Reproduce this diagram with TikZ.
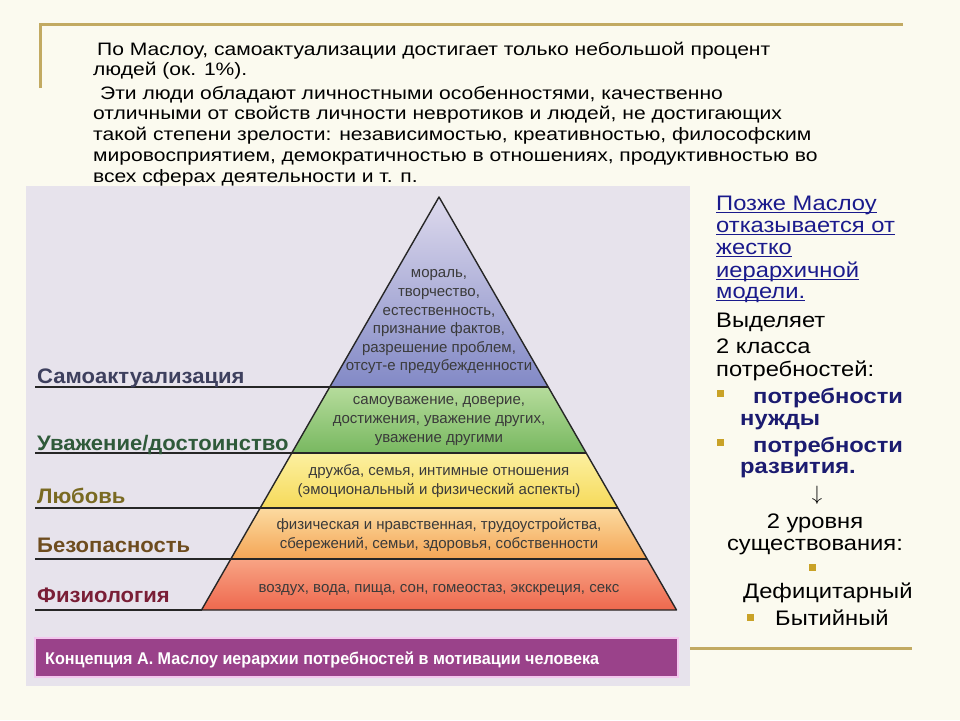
\documentclass[tikz,border=0pt]{standalone}
\usepackage{fontspec}
\setmainfont{Liberation Sans}
\newfontfamily\parafont[FakeStretch=1.17]{Liberation Sans}
\newfontfamily\sidefont[FakeStretch=1.13]{Liberation Sans}
\newfontfamily\levelfont[FakeStretch=1.05]{Liberation Sans}
\newfontfamily\bannerfont[FakeStretch=0.95]{Liberation Sans}
\usetikzlibrary{calc}

\definecolor{slide}{HTML}{FBFAEF}
\definecolor{goldline}{HTML}{C2AA62}
\definecolor{bulgold}{HTML}{C9A227}
\definecolor{lavbg}{HTML}{E7E3EC}
\definecolor{banner}{HTML}{9A428A}
\definecolor{bannerrim}{HTML}{F3C6EE}
\definecolor{linknavy}{HTML}{1A1A8C}
\definecolor{boldnavy}{HTML}{1B1B70}
\definecolor{layertext}{HTML}{3A3A3A}
\definecolor{selfcol}{HTML}{3E405E}
\definecolor{esteemcol}{HTML}{2F5A3A}
\definecolor{lovecol}{HTML}{7A6A22}
\definecolor{safecol}{HTML}{6E4C1E}
\definecolor{physcol}{HTML}{7A1E36}

% underline at a fixed depth
\newcommand{\undl}[1]{\setbox0\hbox{#1}\rlap{\rule[-3.2pt]{\wd0}{1.1pt}}\box0}

\begin{document}
\begin{tikzpicture}[x=1pt, y=-1pt,
    para/.style={anchor=base west, inner sep=0pt, font=\parafont\fontsize{18}{21}\selectfont},
    side/.style={anchor=base west, inner sep=0pt, font=\sidefont\fontsize{21}{23}\selectfont},
    sidec/.style={anchor=base, inner sep=0pt, font=\sidefont\fontsize{21}{23}\selectfont},
    sideb/.style={side, text=boldnavy, font=\sidefont\fontsize{21}{23}\selectfont\bfseries},
    level/.style={anchor=base west, inner sep=0pt, font=\levelfont\fontsize{21}{23}\selectfont\bfseries},
    need/.style={align=center, inner sep=0pt, text=layertext, font=\fontsize{15}{18.6}\selectfont},
    bul/.style={fill=bulgold, minimum size=7pt, inner sep=0pt},
    pyrline/.style={draw=black!85, line width=1.4pt, line join=round},
    gold/.style={draw=goldline, line width=3pt}
  ]
  % slide
  \fill[slide] (0,0) rectangle (960,720);
  \useasboundingbox (0,0) rectangle (960,720);
  \draw[gold] (40,88) -- (40,24) -- (903,24);
  \draw[gold] (690,648) -- (912,648);

  % top text
  \node[para] (p1) at (97,55) {По Маслоу, самоактуализации достигает только небольшой процент};
  \node[para] (p2) at (93,75) {людей (ок. 1\%).};
  \node[para] (p3) at (100,99) {Эти люди обладают личностными особенностями, качественно};
  \node[para] (p4) at (93,119) {отличными от свойств личности невротиков и людей, не достигающих};
  \node[para] (p5) at (93,140) {такой степени зрелости: независимостью, креативностью, философским};
  \node[para] (p6) at (93,161) {мировосприятием, демократичностью в отношениях, продуктивностью во};
  \node[para] (p7) at (93,182) {всех сферах деятельности и т. п.};

  % picture panel
  \fill[lavbg] (26,186) rectangle (690,686);
  \fill[banner, draw=bannerrim, line width=1.5pt] (35,638) rectangle (678,677);
  \node[anchor=base west, inner sep=0pt, text=white, font=\bannerfont\fontsize{17}{18}\selectfont\bfseries] (title) at (45,664)
    {Концепция А. Маслоу иерархии потребностей в мотивации человека};

  % pyramid
  \coordinate (apex) at (439,197);
  \coordinate (bl) at (201.5,610);
  \coordinate (br) at (676.5,610);
  \coordinate (l1) at ($(apex)!0.46!(bl)$);   \coordinate (r1) at ($(apex)!0.46!(br)$);
  \coordinate (l2) at ($(apex)!0.62!(bl)$);   \coordinate (r2) at ($(apex)!0.62!(br)$);
  \coordinate (l3) at ($(apex)!0.753!(bl)$);  \coordinate (r3) at ($(apex)!0.753!(br)$);
  \coordinate (l4) at ($(apex)!0.8765!(bl)$); \coordinate (r4) at ($(apex)!0.8765!(br)$);
  \shade[top color=blue!4!lavbg, bottom color={rgb,255:red,130;green,137;blue,198}] (apex) -- (r1) -- (l1) -- cycle;
  \shade[top color={rgb,255:red,182;green,220;blue,156}, bottom color={rgb,255:red,120;green,184;blue,96}] (l1) -- (r1) -- (r2) -- (l2) -- cycle;
  \shade[top color={rgb,255:red,252;green,240;blue,160}, bottom color={rgb,255:red,246;green,218;blue,90}] (l2) -- (r2) -- (r3) -- (l3) -- cycle;
  \shade[top color={rgb,255:red,252;green,218;blue,160}, bottom color={rgb,255:red,244;green,166;blue,86}] (l3) -- (r3) -- (r4) -- (l4) -- cycle;
  \shade[top color={rgb,255:red,248;green,164;blue,132}, bottom color={rgb,255:red,238;green,104;blue,78}] (l4) -- (r4) -- (br) -- (bl) -- cycle;
  \draw[pyrline] (apex) -- (br) -- (bl) -- cycle;
  \foreach \k in {1,...,4}
    \draw[pyrline] (l\k) -- (r\k);

  % level rules on the left
  \coordinate (lx) at (35,0);
  \foreach \k in {1,...,4}
    \draw[pyrline] (l\k) -- (l\k -| lx);
  \draw[pyrline] (bl) -- (bl -| lx);

  \node[level, text=selfcol] (self) at (37,383) {Самоактуализация};
  \node[level, text=esteemcol] (esteem) at (37,450) {Уважение/достоинство};
  \node[level, text=lovecol] (love) at (37,503) {Любовь};
  \node[level, text=safecol] (safe) at (37,552) {Безопасность};
  \node[level, text=physcol] (phys) at (37,602) {Физиология};

  % needs inside the layers
  \node[need] (n1) at (439,322) {мораль,\\творчество,\\естественность,\\признание фактов,\\разрешение проблем,\\отсут-е предубежденности};
  \node[need] (n2) at (439,421) {самоуважение, доверие,\\достижения, уважение других,\\уважение другими};
  \node[need] (n3) at (439,481) {дружба, семья, интимные отношения\\(эмоциональный и физический аспекты)};
  \node[need] (n4) at (439,535) {физическая и нравственная, трудоустройства,\\сбережений, семьи, здоровья, собственности};
  \node[need, anchor=base] (n5) at (439,592) {воздух, вода, пища, сон, гомеостаз, экскреция, секс};

  % right column
  \node[side, text=linknavy] (s1) at (716,210) {\undl{Позже Маслоу}};
  \node[side, text=linknavy] (s2) at (716,232) {\undl{отказывается от}};
  \node[side, text=linknavy] (s3) at (716,254) {\undl{жестко}};
  \node[side, text=linknavy] (s4) at (716,277) {\undl{иерархичной}};
  \node[side, text=linknavy] (s5) at (716,298) {\undl{модели.}};
  \node[side] (s6) at (716,327) {Выделяет};
  \node[side] (s7) at (716,353) {2 класса};
  \node[side] (s8) at (716,376) {потребностей:};
  \node[bul] (b1) at (720,393) {};
  \node[sideb] (s9) at (753,403) {потребности};
  \node[sideb] (s10) at (740,425) {нужды};
  \node[bul] (b2) at (720,442) {};
  \node[sideb] (s11) at (753,452) {потребности};
  \node[sideb] (s12) at (740,473) {развития.};
  \node[sidec] (down) at (817,500) {$\downarrow$};
  \node[sidec] (s13) at (815,528) {2 уровня};
  \node[sidec] (s14) at (815,550) {существования:};
  \node[bul] (b3) at (812,567) {};
  \node[side] (s15) at (743,598) {Дефицитарный};
  \node[bul] (b4) at (750,617) {};
  \node[side] (s16) at (775,625) {Бытийный};
\end{tikzpicture}
\end{document}
